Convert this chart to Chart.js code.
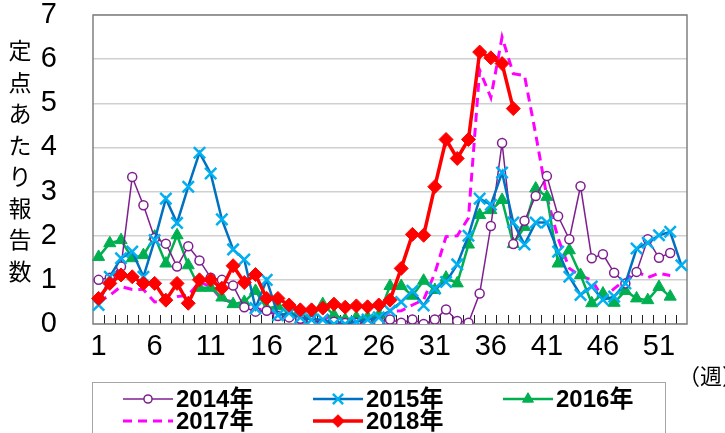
<!DOCTYPE html>
<html>
<head>
<meta charset="utf-8">
<script src="https://cdn.jsdelivr.net/npm/chart.js@4.4.1/dist/chart.umd.min.js"></script>
<style>
  html, body { margin: 0; padding: 0; background: #fff; }
  #wrap { width: 725px; height: 433px; position: relative; }
</style>
</head>
<body>
<div id="wrap"><canvas id="myChart" width="725" height="433"></canvas></div>
<script>
const weeks = ['1','2','3','4','5','6','7','8','9','10','11','12','13','14','15','16','17','18','19','20',
  '21','22','23','24','25','26','27','28','29','30','31','32','33','34','35','36','37','38','39','40',
  '41','42','43','44','45','46','47','48','49','50','51','52','53'];
const seriesNames = ['2014年', '2015年', '2016年', '2017年', '2018年'];
const yTicks = [0, 1, 2, 3, 4, 5, 6, 7];

const y2014 = [1.0, 1.05, 1.3, 3.33, 2.69, 1.95, 1.82, 1.3, 1.76, 1.44, 1.05, 1.0, 0.87, 0.38, 0.28, 0.3, 0.18, 0.15, 0.12, 0.08,
  0.02, 0.05, 0.02, 0.03, 0.03, 0.05, 0.1, 0.03, 0.1, 0.0, 0.1, 0.33, 0.07, 0.03, 0.69, 2.22, 4.1, 1.81, 2.34, 2.9,
  3.35, 2.44, 1.92, 3.12, 1.49, 1.58, 1.16, 0.92, 1.18, 1.92, 1.5, 1.61, null];
const y2015 = [0.43, 1.07, 1.49, 1.64, 1.07, 1.9, 2.84, 2.29, 3.11, 3.88, 3.41, 2.37, 1.69, 1.46, 0.36, 1.0, 0.2, 0.25, 0.15, 0.1,
  0.1, 0.0, 0.0, 0.05, 0.1, 0.15, 0.3, 0.5, 0.75, 0.42, 0.8, 0.95, 1.35, 2.0, 2.84, 2.7, 3.43, 2.3, 1.8, 2.3,
  2.3, 1.64, 1.07, 0.66, 0.85, 0.55, 0.62, 0.92, 1.71, 1.84, 2.01, 2.09, 1.33];
const y2016 = [1.52, 1.83, 1.9, 1.49, 1.56, 1.98, 1.37, 2.01, 1.33, 0.82, 0.82, 0.6, 0.45, 0.5, 0.75, 0.35, 0.4, 0.25, 0.2, 0.15,
  0.45, 0.2, 0.1, 0.15, 0.15, 0.2, 0.86, 0.86, 0.64, 0.98, 0.77, 1.05, 0.92, 1.8, 2.47, 2.58, 2.81, 1.81, 2.2, 3.07,
  2.88, 1.37, 1.67, 1.11, 0.47, 0.69, 0.48, 0.75, 0.58, 0.54, 0.84, 0.62, null];
const y2017 = [0.5, 0.65, 0.85, 0.78, 0.78, 0.5, 0.52, 0.62, 0.65, 0.95, 0.85, 0.55, 0.5, 0.45, 0.35, 0.3, 0.2, 0.1, 0.05, 0.05,
  0.1, 0.2, 0.1, 0.1, 0.1, 0.15, 0.28, 0.3, 0.43, 0.55, 1.15, 1.98, 2.0, 2.4, 5.75, 5.13, 6.5, 5.67, 5.63, 4.3,
  2.88, 1.94, 1.26, 1.09, 1.0, 0.58, 0.8, 1.0, 1.2, 1.05, 1.15, 1.1, null];
const y2018 = [0.58, 0.92, 1.11, 1.07, 0.92, 0.92, 0.54, 0.92, 0.47, 1.0, 1.0, 0.81, 1.32, 0.94, 1.12, 0.58, 0.58, 0.43, 0.32, 0.32,
  0.36, 0.45, 0.38, 0.41, 0.39, 0.43, 0.54, 1.26, 2.03, 2.01, 3.11, 4.18, 3.75, 4.18, 6.16, 6.03, 5.9, 4.88, null, null,
  null, null, null, null, null, null, null, null, null, null, null, null, null];

const FONT = "'Liberation Sans Narrow', 'Liberation Sans', 'Noto Sans CJK JP', sans-serif";

// frame, inner tick marks, legend box, axis captions
const decor = {
  id: 'decor',
  beforeDatasetsDraw(chart) {
    const ctx = chart.ctx, a = chart.chartArea;
    const n = weeks.length, step = (a.right - a.left) / n;
    ctx.save();
    ctx.strokeStyle = '#222';
    ctx.lineWidth = 1;
    ctx.beginPath();
    for (let i = 1; i < n; i++) {
      const x = Math.round(a.left + i * step) + 0.5;
      ctx.moveTo(x, a.bottom);
      ctx.lineTo(x, a.bottom - 9);
    }
    ctx.stroke();
    ctx.strokeStyle = '#808080';
    ctx.lineWidth = 1.5;
    ctx.strokeRect(a.left, a.top, a.right - a.left, a.bottom - a.top);
    ctx.restore();
  },
  afterDraw(chart) {
    const ctx = chart.ctx;
    ctx.save();
    // y title, one character per line
    ctx.fillStyle = '#000';
    ctx.font = '23px ' + FONT;
    ctx.textAlign = 'center';
    ctx.textBaseline = 'middle';
    const title = '定点あたり報告数';
    for (let i = 0; i < title.length; i++) {
      ctx.fillText(title[i], 20, 53 + i * 31.5);
    }
    ctx.font = '22px ' + FONT;
    ctx.textAlign = 'left';
    ctx.fillText('（週）', 678, 378);

    // legend
    ctx.strokeStyle = '#a6a6a6';
    ctx.lineWidth = 1;
    ctx.strokeRect(92.5, 382.5, 573, 60);
    const pos = [[123, 399], [313, 399], [503, 399], [123, 421], [313, 421]];
    chart.data.datasets.forEach((ds, i) => {
      const [x, y] = pos[i];
      ctx.save();
      ctx.strokeStyle = ds.borderColor;
      ctx.lineWidth = ds.borderWidth;
      ctx.setLineDash(ds.borderDash || []);
      ctx.beginPath();
      ctx.moveTo(x, y);
      ctx.lineTo(x + 50, y);
      ctx.stroke();
      ctx.setLineDash([]);
      if (ds.pointRadius > 0) {
        ctx.strokeStyle = ds.pointBorderColor;
        ctx.fillStyle = ds.pointBackgroundColor;
        ctx.lineWidth = ds.pointBorderWidth;
        Chart.helpers.drawPoint(ctx, {
          pointStyle: ds.pointStyle, radius: ds.pointRadius * 0.9,
          borderWidth: ds.pointBorderWidth, rotation: 0
        }, x + 25, y);
      }
      ctx.restore();
      ctx.fillStyle = '#000';
      ctx.font = 'bold 24px ' + FONT;
      ctx.textAlign = 'left';
      ctx.textBaseline = 'middle';
      ctx.fillText(ds.label, x + 53, y + 1);
    });
    ctx.restore();
  }
};

const ctx = document.getElementById('myChart').getContext('2d');
new Chart(ctx, {
  type: 'line',
  data: {
    labels: weeks,
    datasets: [{
      label: seriesNames[0],
      data: y2014,
      borderColor: '#7F1F8F',
      borderWidth: 1.5,
      pointStyle: 'circle',
      pointRadius: 4.5,
      pointBackgroundColor: '#fff',
      pointBorderColor: '#7F1F8F',
      pointBorderWidth: 1.5,
      order: 2
    }, {
      label: seriesNames[1],
      data: y2015,
      borderColor: '#0070C0',
      borderWidth: 2.5,
      pointStyle: 'crossRot',
      pointRadius: 8,
      pointBackgroundColor: '#00B0F0',
      pointBorderColor: '#00B0F0',
      pointBorderWidth: 2.5,
      order: 1
    }, {
      label: seriesNames[2],
      data: y2016,
      borderColor: '#00B050',
      borderWidth: 2.5,
      pointStyle: 'triangle',
      pointRadius: 7,
      pointBackgroundColor: '#00B050',
      pointBorderColor: '#00B050',
      pointBorderWidth: 1,
      order: 3
    }, {
      label: seriesNames[3],
      data: y2017,
      borderColor: '#FF00FF',
      borderWidth: 3,
      borderDash: [9, 6],
      pointRadius: 0,
      order: 4
    }, {
      label: seriesNames[4],
      data: y2018,
      borderColor: '#FF0000',
      borderWidth: 3.5,
      pointStyle: 'rectRot',
      pointRadius: 7,
      pointBackgroundColor: '#FF0000',
      pointBorderColor: '#FF0000',
      pointBorderWidth: 1,
      order: 0
    }]
  },
  options: {
    responsive: false,
    animation: false,
    layout: { padding: { left: 0, right: 38, top: 15, bottom: 0 } },
    elements: { line: { tension: 0 } },
    plugins: { legend: { display: false }, tooltip: { enabled: false } },
    scales: {
      x: {
        type: 'category',
        offset: true,
        grid: { display: false },
        border: { display: false },
        ticks: {
          autoSkip: false,
          maxRotation: 0,
          padding: -2,
          color: '#000',
          font: { family: FONT, size: 29 },
          callback: (v, i) => (i % 5 === 0 ? weeks[i] : '')
        },
        afterFit: s => { s.height = 109; }
      },
      y: {
        min: 0,
        max: 7,
        afterBuildTicks: s => { s.ticks = yTicks.map(v => ({ value: v })); },
        grid: { color: '#d0d0d0', lineWidth: 1.5, drawTicks: false },
        border: { display: false },
        ticks: {
          padding: 36,
          color: '#000',
          font: { family: FONT, size: 29 }
        },
        afterFit: s => { s.width = 93; s.paddingTop = 10; s.paddingBottom = 10; }
      }
    }
  },
  plugins: [decor]
});
</script>
</body>
</html>
